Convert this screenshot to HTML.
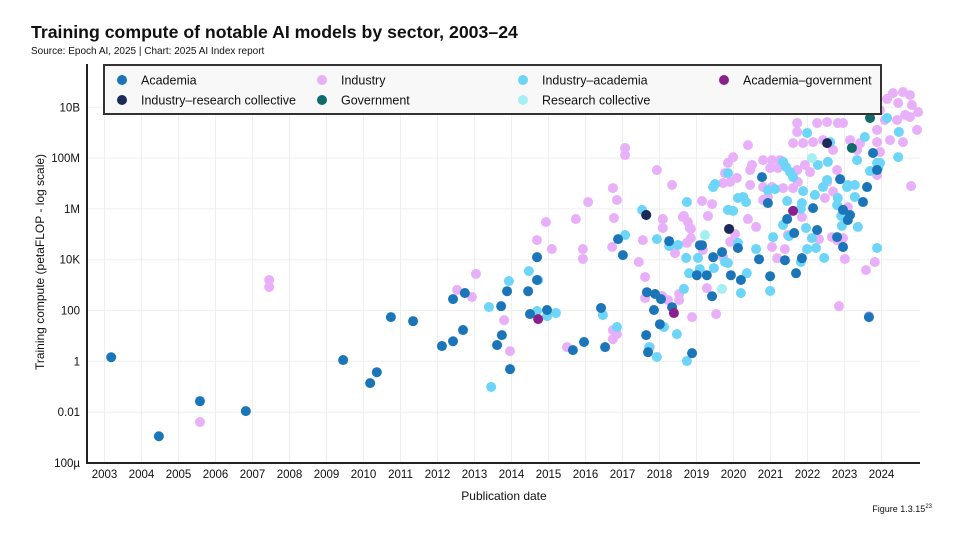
<!DOCTYPE html>
<html><head><meta charset="utf-8"><style>
body{margin:0;background:#fff;font-family:"Liberation Sans",sans-serif}
svg text{font-family:"Liberation Sans",sans-serif}
</style></head><body>
<svg id="chart" width="957" height="544" viewBox="0 0 957 544" xmlns="http://www.w3.org/2000/svg">
<text x="31" y="38" font-size="17.7" font-weight="bold" fill="#111">Training compute of notable AI models by sector, 2003–24</text>
<text x="31" y="54" font-size="10" fill="#111">Source: Epoch AI, 2025 | Chart: 2025 AI Index report</text>
<g id="grid"></g>
<g id="points"></g>
<line x1="87" y1="64" x2="87" y2="463" stroke="#222" stroke-width="2"/>
<line x1="86" y1="463" x2="920" y2="463" stroke="#222" stroke-width="2"/>
<g id="ticks"></g>
<text transform="translate(44,262) rotate(-90)" text-anchor="middle" font-size="12" fill="#111">Training compute (petaFLOP - log scale)</text>
<text x="504" y="500" text-anchor="middle" font-size="12" fill="#111">Publication date</text>
<text x="932" y="512" text-anchor="end" font-size="9" fill="#111">Figure 1.3.15<tspan font-size="6" dy="-4">23</tspan></text>
<g id="legend">
<rect x="104" y="65" width="777" height="49" fill="#f8f8f8" stroke="#333" stroke-width="2"/>
</g>
</svg>
<script>
const yearTicks=[2003,2004,2005,2006,2007,2008,2009,2010,2011,2012,2013,2014,2015,2016,2017,2018,2019,2020,2021,2022,2023,2024];
const logTicks=[10,8,6,4,2,0,-2,-4];
const logTickLabels=["10B","100M","1M","10K","100","1","0.01","100µ"];
const seriesNames=["Industry","Industry–academia","Academia","Industry–research collective","Government","Research collective","Academia–government"];
const seriesColors=["#e9b0fa","#6dd5f8","#1b75b9","#1b2a57","#0f6c6a","#a3eff2","#8a208c"];
const industryYears=[2005.58,2007.45,2007.45,2013.04,2012.53,2012.93,2013.8,2013.96,2014.93,2014.69,2015.09,2015.74,2016.07,2015.93,2015.93,2016.74,2016.85,2016.77,2016.72,2017.44,2017.61,2017.55,2015.5,2016.74,2016.85,2016.74,2018.09,2018.09,2018.34,2017.93,2018.66,2018.77,2018.85,2018.74,2018.85,2018.42,2018.07,2018.23,2018.53,2018.53,2018.88,2017.61,2017.74,2017.07,2017.07,2020.39,2019.99,2019.85,2019.77,2019.72,2019.91,2020.09,2020.5,2020.45,2020.8,2021.04,2021.26,2020.99,2021.2,2020.8,2021.04,2020.45,2020.8,2020.93,2021.72,2021.72,2021.61,2021.88,2022.15,2022.42,2022.69,2022.26,2022.53,2022.82,2022.96,2021.93,2022.07,2021.72,2021.34,2021.61,2021.74,2023.15,2023.42,2023.34,2023.88,2023.96,2023.88,2024.09,2024.42,2024.77,2024.96,2024.58,2024.23,2022.8,2022.53,2022.69,2022.47,2023.88,2024.8,2023.09,2022.8,2022.96,2022.66,2022.31,2023.01,2023.82,2023.58,2022.85,2023.66,2021.04,2021.39,2021.18,2020.39,2020.61,2019.91,2020.04,2019.72,2019.28,2019.53,2019.15,2019.42,2019.31,2018.63,2018.82,2019.17,2021.85,2021.47,2024.31,2024.58,2024.77,2024.45,2024.82,2024.99,2024.64,2024.15,2023.96];
const industryLogs=[-2.39,3.2,2.92,3.44,2.81,2.53,1.62,0.4,5.48,4.77,4.42,5.6,6.27,4.42,4.03,6.82,6.35,5.64,4.5,3.91,3.32,4.77,0.56,1.23,1.07,0.87,5.6,5.25,6.94,7.53,5.72,5.48,5.21,4.66,4.85,4.26,2.57,2.41,2.65,2.41,1.74,2.49,0.56,8.4,8.12,8.51,8.04,7.81,7.41,7.02,7.06,7.22,7.73,7.53,7.92,7.92,7.92,7.61,7.61,6.86,6.86,6.94,6.35,6.47,9.38,9.03,8.59,8.59,8.63,8.71,8.32,9.38,9.42,9.38,9.38,7.73,7.45,7.53,6.82,6.82,7.06,8.71,8.59,8.32,8.63,8.24,9.11,9.5,9.5,9.62,9.11,8.63,8.71,7.53,7.06,6.68,6.43,7.33,6.9,6.07,4.77,4.85,4.89,4.81,4.03,3.91,3.59,2.17,1.78,4.5,4.42,4.06,5.6,5.29,4.7,5.01,4.1,2.88,1.86,6.31,6.19,5.72,5.68,5.25,4.38,5.68,4.97,10.56,10.6,10.48,10.17,10.09,9.81,9.7,10.33,9.89];
const indAcadYears=[2013.39,2014.47,2013.93,2014.72,2014.69,2014.96,2015.2,2013.45,2016.47,2016.85,2017.07,2017.53,2017.93,2018.26,2018.5,2018.74,2018.72,2018.8,2018.66,2018.47,2018.12,2017.93,2018.74,2017.72,2019.85,2019.45,2019.5,2020.12,2020.26,2020.34,2019.85,2019.99,2021.34,2021.42,2021.53,2021.61,2020.93,2021.12,2021.88,2022.2,2021.45,2021.85,2021.82,2022.55,2022.28,2022.53,2022.42,2023.09,2023.28,2023.07,2023.28,2022.82,2022.8,2022.91,2022.93,2023.36,2023.55,2023.34,2023.88,2023.96,2023.91,2023.69,2024.15,2024.47,2024.45,2021.99,2022.61,2021.34,2021.5,2021.96,2022.12,2021.99,2022.23,2022.45,2021.82,2021.07,2020.61,2020.36,2020.2,2020.99,2020.12,2019.77,2019.85,2019.47,2019.09,2019.04,2023.88];
const indAcadLogs=[2.14,3.55,3.16,3.2,1.98,1.78,1.9,-1.01,1.82,1.35,4.97,5.96,4.81,4.54,4.58,6.27,4.07,3.47,2.85,1.07,1.35,0.17,0.01,0.56,7.41,6.86,6.98,6.43,6.47,6.27,5.96,5.92,7.85,7.65,7.45,7.25,6.74,6.78,6.7,6.55,6.31,6.23,6.0,7.85,7.73,7.14,6.86,6.94,6.94,6.86,6.47,6.43,6.15,5.72,5.33,5.29,8.83,7.92,7.81,7.81,7.61,7.49,9.58,9.03,8.04,8.99,8.63,5.37,4.93,5.25,4.85,4.42,4.46,4.07,3.91,4.89,4.42,3.47,2.69,2.77,4.66,3.91,3.87,3.67,3.63,4.07,4.46];
const academiaYears=[2003.18,2004.47,2005.58,2006.82,2009.45,2010.18,2010.36,2010.74,2011.34,2012.12,2012.42,2012.69,2012.42,2012.74,2013.72,2013.88,2014.69,2014.45,2014.69,2013.74,2013.61,2013.96,2014.5,2014.96,2015.66,2015.96,2016.42,2016.53,2016.88,2017.01,2017.64,2017.66,2017.88,2018.04,2017.85,2018.34,2018.01,2017.64,2017.69,2018.88,2018.26,2019.01,2019.09,2020.77,2022.88,2023.61,2023.5,2022.15,2021.45,2021.64,2022.26,2022.96,2023.15,2023.09,2022.96,2022.8,2021.85,2021.69,2021.39,2020.99,2020.69,2020.2,2019.93,2019.69,2019.45,2019.15,2019.28,2019.42,2020.12,2020.93,2023.77,2023.88,2023.66];
const academiaLogs=[0.16,-2.95,-1.57,-1.96,0.05,-0.86,-0.43,1.74,1.58,0.6,0.79,1.23,2.45,2.69,2.17,2.76,4.1,2.76,3.2,1.03,0.64,-0.31,1.86,2.02,0.44,0.76,2.1,0.56,4.81,4.18,5.76,2.72,2.65,2.45,2.02,2.13,1.46,1.03,0.36,0.32,4.73,3.39,4.57,7.25,7.17,6.86,6.27,6.03,5.6,5.05,5.17,5.96,5.76,5.56,4.5,4.89,4.06,3.47,3.98,3.35,4.02,3.2,3.39,4.3,4.1,4.57,3.39,2.56,4.46,6.23,8.2,7.53,1.74];
const irCollYears=[2019.88,2022.53,2017.64];
const irCollLogs=[5.21,8.59,5.76];
const govYears=[2023.69,2023.2];
const govLogs=[9.58,8.4];
const researchYears=[2019.23,2019.69,2022.12];
const researchLogs=[4.97,2.85,8.0];
const acadGovYears=[2014.72,2018.39,2021.61];
const acadGovLogs=[1.66,1.9,5.92];

const NS="http://www.w3.org/2000/svg";
function xScale(yr){return 104.5+(yr-2003)*37;}
function yScale(lg){return 107.3+(10-lg)*25.4;}
const grid=document.getElementById('grid'),ticks=document.getElementById('ticks'),pts=document.getElementById('points'),legend=document.getElementById('legend');
yearTicks.forEach(function(yr){
  const l=document.createElementNS(NS,'line');
  l.setAttribute('x1',xScale(yr));l.setAttribute('x2',xScale(yr));l.setAttribute('y1',64);l.setAttribute('y2',463);
  l.setAttribute('stroke','#efefef');l.setAttribute('stroke-width','1');
  
  
  grid.appendChild(l);
  const t=document.createElementNS(NS,'text');
  t.setAttribute('x',xScale(yr));t.setAttribute('y',478);t.setAttribute('text-anchor','middle');t.setAttribute('font-size','11.5');t.setAttribute('fill','#111');
  t.textContent=yr;
  
  
  ticks.appendChild(t);
});
logTicks.forEach(function(lg,i){
  const l=document.createElementNS(NS,'line');
  l.setAttribute('x1',87);l.setAttribute('x2',920);l.setAttribute('y1',yScale(lg));l.setAttribute('y2',yScale(lg));
  l.setAttribute('stroke','#efefef');l.setAttribute('stroke-width','1');
  
  
  grid.appendChild(l);
  const t=document.createElementNS(NS,'text');
  t.setAttribute('x',80);t.setAttribute('y',yScale(lg)+4);t.setAttribute('text-anchor','end');t.setAttribute('font-size','11.5');t.setAttribute('fill','#111');
  t.textContent=logTickLabels[i];
  
  
  ticks.appendChild(t);
});
const seriesX=[industryYears,indAcadYears,academiaYears,irCollYears,govYears,researchYears,acadGovYears];
const seriesY=[industryLogs,indAcadLogs,academiaLogs,irCollLogs,govLogs,researchLogs,acadGovLogs];
seriesX.forEach(function(xs,s){
  xs.forEach(function(yr,i){
    const c=document.createElementNS(NS,'circle');
    c.setAttribute('cx',xScale(yr));c.setAttribute('cy',yScale(seriesY[s][i]));c.setAttribute('r',5);c.setAttribute('fill',seriesColors[s]);
    
    
    pts.appendChild(c);
  });
});
const legOrder=[2,0,1,6,3,4,5];
const legPos=[[122,80],[322,80],[523,80],[724,80],[122,100],[322,100],[523,100]];
legOrder.forEach(function(s,i){
  const c=document.createElementNS(NS,'circle');
  c.setAttribute('cx',legPos[i][0]);c.setAttribute('cy',legPos[i][1]);c.setAttribute('r',5);c.setAttribute('fill',seriesColors[s]);
  
  
  legend.appendChild(c);
  const t=document.createElementNS(NS,'text');
  t.setAttribute('x',legPos[i][0]+19);t.setAttribute('y',legPos[i][1]+4.5);t.setAttribute('font-size','12.5');t.setAttribute('fill','#111');
  t.textContent=seriesNames[s];
  
  
  legend.appendChild(t);
});
</script>
</body></html>
